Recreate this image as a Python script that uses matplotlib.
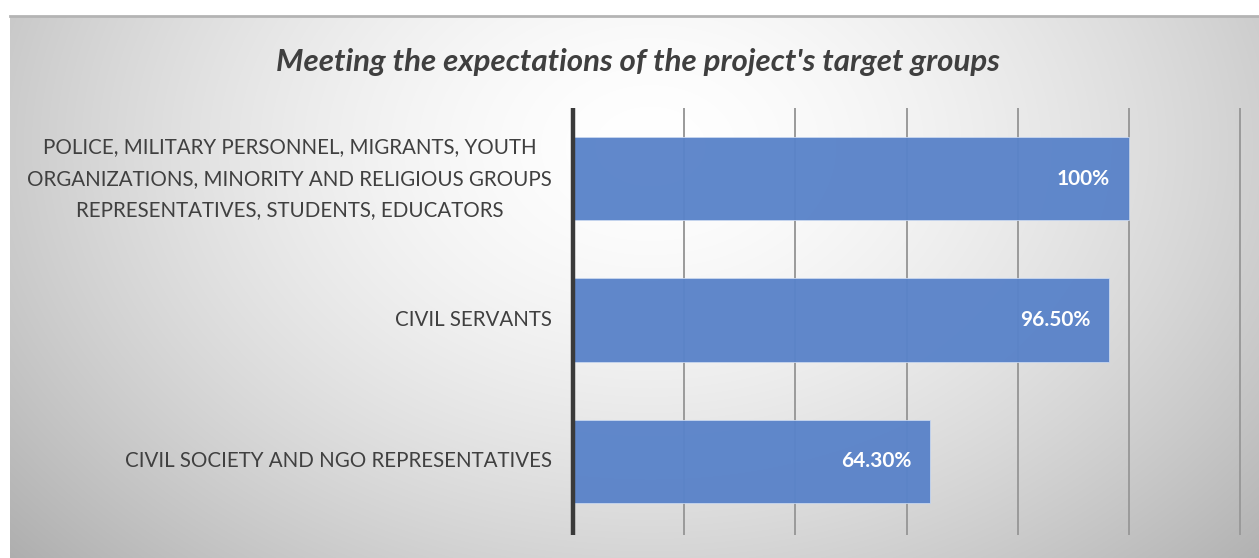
import numpy as np
import matplotlib
matplotlib.use("Agg")
import matplotlib.pyplot as plt
import matplotlib.transforms as mtransforms

# Chart data
title = "Meeting the expectations of the project's target groups"
categories = [
    "POLICE, MILITARY PERSONNEL, MIGRANTS, YOUTH\n"
    "ORGANIZATIONS, MINORITY AND RELIGIOUS GROUPS\n"
    "REPRESENTATIVES, STUDENTS, EDUCATORS",
    "CIVIL SERVANTS",
    "CIVIL SOCIETY AND NGO REPRESENTATIVES",
]
values = [100.0, 96.5, 64.3]
value_labels = ["100%", "96.50%", "64.30%"]
grid_ticks = [0, 20, 40, 60, 80, 100, 120]

W, H, DPI = 1259, 558, 100
fig = plt.figure(figsize=(W / DPI, H / DPI), dpi=DPI, facecolor="white")

# Radial grey background panel
bg = fig.add_axes([10 / W, 0, 1 - 10 / W, 1 - 16 / H], zorder=0)
ph, pw = 542, 1249
yy, xx = np.mgrid[0:ph, 0:pw]
cx, cy = 640.0, 130.0
d = np.sqrt(((xx - cx) / 720.0) ** 2 + ((yy - cy) / 520.0) ** 2)
shade = 1.0 - 0.24 * np.clip(d, 0, 1.2) ** 1.6
img = np.dstack([shade, shade, shade])
bg.imshow(img, aspect="auto", extent=(0, 1, 0, 1), interpolation="bilinear")
bg.plot([0, 1], [1, 1], color="#b4b4b4", lw=2.0, transform=bg.transAxes, clip_on=False)
bg.set_axis_off()

# Bar chart axes
x0, x1 = 573 / W, 1240 / W
yb, yt = 1 - 532 / H, 1 - 108 / H
ax = fig.add_axes([x0, yb, x1 - x0, yt - yb], zorder=1)
ax.patch.set_alpha(0)

ypos = np.arange(len(values))
ax.barh(ypos, values, height=0.59, color="#5a83c9", edgecolor="#c9d8f0",
        linewidth=0.6, zorder=3, alpha=0.96)
ax.set_xlim(0, grid_ticks[-1])
ax.set_ylim(len(values) - 0.5, -0.5)

# Vertical gridlines, extending slightly below the plot
for t in grid_ticks[1:]:
    ax.plot([t, t], [-0.5, len(values) - 0.5 + 0.02], color="#9a9a9a", lw=1.4,
            zorder=2, clip_on=False, solid_capstyle="butt")
ax.plot([0, 0], [-0.5, len(values) - 0.5 + 0.02], color="#3a3a3a", lw=3.2,
        zorder=4, clip_on=False, solid_capstyle="butt")

for s in ax.spines.values():
    s.set_visible(False)
ax.set_xticks([])
ax.set_yticks([])

# Category labels to the left of the axis
off = mtransforms.offset_copy(
    mtransforms.blended_transform_factory(ax.transAxes, ax.transData),
    fig=fig, x=-21, y=0, units="dots")
for y, lab in zip(ypos, categories):
    ax.text(0, y, lab, transform=off, ha="right", va="center",
            multialignment="center", fontsize=14.8, color="#404040",
            family="Lato", linespacing=1.72)

# Value labels inside the bar ends
val_off = mtransforms.offset_copy(ax.transData, fig=fig, x=-19, y=0, units="dots")
for y, v, txt in zip(ypos, values, value_labels):
    ax.text(v, y, txt, transform=val_off, ha="right", va="center",
            fontsize=15, fontweight="bold", color="white", family="Lato", zorder=5)

fig.text(638 / W, 1 - 62 / H, title, ha="center", va="center",
         fontsize=22.5, fontweight="bold", fontstyle="italic", color="#3f3f3f",
         family="Lato")

fig.savefig("out.png", dpi=DPI, facecolor="white")
